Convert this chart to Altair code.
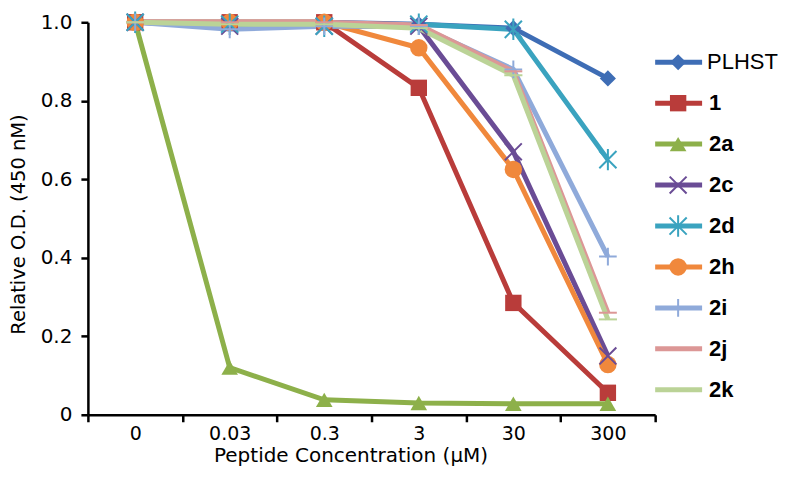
import altair as alt
import pandas as pd

concentrations = ["0", "0.03", "0.3", "3", "30", "300"]
series = ["PLHST", "1", "2a", "2c", "2d", "2h", "2i", "2j", "2k"]

v_plhst = [1.0, 1.0, 1.0, 0.995, 0.985, 0.857]
v_1 = [1.0, 1.0, 1.0, 0.833, 0.285, 0.056]
v_2a = [1.0, 0.12, 0.038, 0.03, 0.028, 0.028]
v_2c = [1.0, 0.99, 0.99, 0.99, 0.67, 0.15]
v_2d = [1.0, 0.995, 0.99, 0.995, 0.982, 0.65]
v_2h = [1.0, 1.0, 1.0, 0.935, 0.625, 0.128]
v_2i = [1.0, 0.982, 0.99, 0.99, 0.88, 0.403]
v_2j = [1.0, 1.0, 1.0, 0.993, 0.875, 0.26]
v_2k = [1.0, 0.995, 0.995, 0.985, 0.865, 0.243]

all_values = [v_plhst, v_1, v_2a, v_2c, v_2d, v_2h, v_2i, v_2j, v_2k]

colors = ["#3E6DB5", "#B93C3A", "#8DB04A", "#6A4C95", "#3AA3BF",
          "#F0883C", "#8FAADA", "#DC9796", "#BBD397"]
X_PATH = "M-1,-1L1,1M-1,1L1,-1"
AST_PATH = "M-1,-1L1,1M-1,1L1,-1M0,-1.25L0,1.25"
PLUS_PATH = "M0,-1L0,1M-1,0L1,0"
DASH_PATH = "M-1,0L1,0"
shapes = ["diamond", "square", "triangle-up", X_PATH, AST_PATH, "circle",
          PLUS_PATH, DASH_PATH, DASH_PATH]
sizes = [260, 330, 420, 180, 220, 330, 170, 130, 130]
filled_series = ["PLHST", "1", "2a", "2h"]
open_series = ["2c", "2d", "2i", "2j", "2k"]

rows = []
for s, vals in zip(series, all_values):
    for c, v in zip(concentrations, vals):
        rows.append({"series": s, "conc": c, "value": v})
df = pd.DataFrame(rows)
legend_df = pd.DataFrame({"series": series})

FONT = "Liberation Sans"
FONT2 = "DejaVu Sans"

color_enc = alt.Color("series:N", scale=alt.Scale(domain=series, range=colors), legend=None)
shape_enc = alt.Shape("series:N", scale=alt.Scale(domain=series, range=shapes), legend=None)
size_enc = alt.Size("series:N", scale=alt.Scale(domain=series, range=sizes), legend=None)

x_enc = alt.X("conc:N", sort=concentrations,
              scale=alt.Scale(type="band", domain=concentrations, paddingInner=0, paddingOuter=0),
              axis=alt.Axis(title="Peptide Concentration (\u03bcM)", labelAngle=0,
                            tickBand="extent", labelPadding=3, titlePadding=2,
                            labelFont=FONT2, labelFontSize=19,
                            titleFont=FONT2, titleFontSize=20, titleX=263))
y_enc = alt.Y("value:Q", scale=alt.Scale(domain=[0, 1], nice=False),
              axis=alt.Axis(title="Relative O.D.  (450 nM)", values=[0, 0.2, 0.4, 0.6, 0.8, 1.0],
                            labelExpr="datum.value == 0 ? '0' : format(datum.value, '.1f')",
                            labelPadding=9, titlePadding=12,
                            labelFont=FONT2, labelFontSize=20,
                            titleFont=FONT2, titleFontSize=19.5, titleY=202))

base = alt.Chart(df).encode(x=x_enc, y=y_enc, color=color_enc)
lines = base.transform_calculate(conc_idx="indexof(%s, datum.conc)" % str(concentrations)).mark_line(
    strokeWidth=5).encode(detail="series:N", order=alt.Order("conc_idx:Q"))
pts_filled = base.transform_filter(alt.FieldOneOfPredicate(field="series", oneOf=filled_series)).mark_point(
    filled=True, opacity=1).encode(shape=shape_enc, size=size_enc)
pts_open = base.transform_filter(alt.FieldOneOfPredicate(field="series", oneOf=open_series)).mark_point(
    filled=False, opacity=1, strokeWidth=2).encode(shape=shape_enc, size=size_enc)

main = alt.layer(lines, pts_filled, pts_open).properties(width=568, height=393)

ly = alt.Y("series:N", sort=series, scale=alt.Scale(type="point", domain=series, range=[40, 368], padding=0), axis=None)
lbase = alt.Chart(legend_df).encode(y=ly, color=color_enc)
l_rule = lbase.mark_rule(strokeWidth=5).encode(x=alt.value(0), x2=alt.value(47))
l_filled = lbase.transform_filter(alt.FieldOneOfPredicate(field="series", oneOf=filled_series)).mark_point(
    filled=True, opacity=1).encode(x=alt.value(23), shape=shape_enc, size=size_enc)
l_open = lbase.transform_filter(alt.FieldOneOfPredicate(field="series", oneOf=open_series)).mark_point(
    filled=False, opacity=1, strokeWidth=2).encode(x=alt.value(23), shape=shape_enc, size=size_enc)
l_text_n = alt.Chart(legend_df).transform_filter(alt.datum.series == "PLHST").mark_text(
    align="left", baseline="middle", font=FONT, fontSize=22, color="black").encode(
    x=alt.value(52), y=ly, text="series:N")
l_text_b = alt.Chart(legend_df).transform_filter(alt.datum.series != "PLHST").mark_text(
    align="left", baseline="middle", font=FONT, fontSize=22, fontWeight="bold", color="black").encode(
    x=alt.value(54), y=ly, text="series:N")
legend = alt.layer(l_rule, l_filled, l_open, l_text_n, l_text_b).properties(width=108, height=393)

chart = alt.hconcat(main, legend, spacing=0, bounds="flush").resolve_scale(
    color="shared", shape="shared", size="shared", y="independent"
).properties(padding={"left": 0, "top": -1, "right": 0, "bottom": 0}).configure_view(stroke=None).configure_axis(
    domainColor="black", domainWidth=2.5, tickColor="black", tickWidth=2.5, tickSize=7,
    labelColor="black", grid=False,
    titleFontWeight="normal", titleColor="black"
)

chart.save("out.html", embed_options={"renderer": "svg", "actions": False})
